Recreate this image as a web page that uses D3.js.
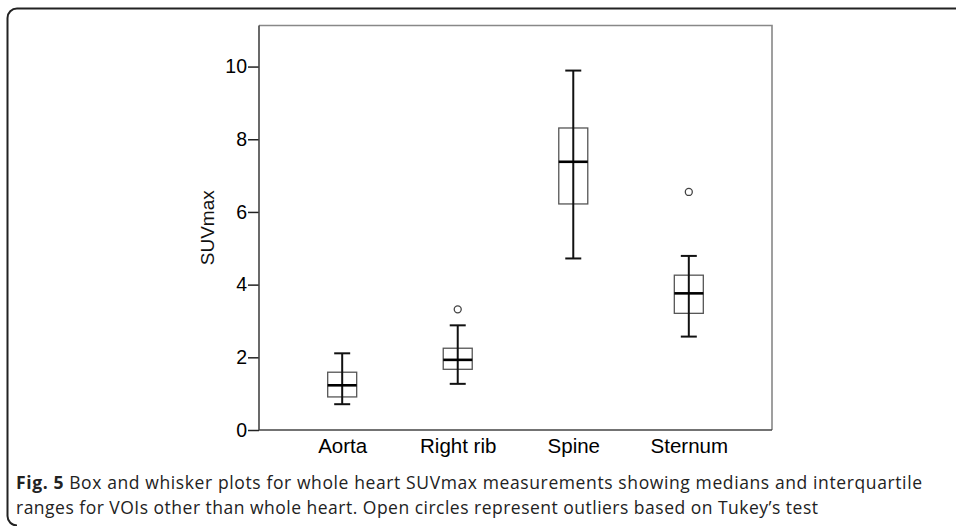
<!DOCTYPE html>
<html>
<head>
<meta charset="utf-8">
<script src="https://cdn.jsdelivr.net/npm/d3@7"></script>
<style>
  body { margin: 0; background: #fff; }
  svg { display: block; }
</style>
</head>
<body>
<div id="chart"></div>
<script>
const categories = ["Aorta", "Right rib", "Spine", "Sternum"];
const whiskerLow = [0.71, 1.27, 4.72, 2.57];
const q1 = [0.91, 1.67, 6.22, 3.21];
const medians = [1.23, 1.93, 7.38, 3.76];
const q3 = [1.59, 2.25, 8.31, 4.26];
const whiskerHigh = [2.11, 2.88, 9.89, 4.79];
const outliers = [[], [3.32], [], [6.55]];
const yTicks = [0, 2, 4, 6, 8, 10];
const captionLines = [
  ["Fig. 5", " Box and whisker plots for whole heart SUVmax measurements showing medians and interquartile"],
  ["", "ranges for VOIs other than whole heart. Open circles represent outliers based on Tukey\u2019s test"],
];

const width = 956;
const height = 526;
const plot = { left: 259, right: 772, top: 25.5, bottom: 430 };

const svg = d3.select("#chart").append("svg")
  .attr("width", width)
  .attr("height", height);

// figure frame
svg.append("path")
  .attr("d", "M956,8.5 H17 A9.5,9.5 0 0 0 7.5,18 V516 A9.5,9.5 0 0 0 17,525.5")
  .attr("fill", "none")
  .attr("stroke", "#222")
  .attr("stroke-width", 2);

const data = categories.map((c, i) => ({
  name: c,
  lo: whiskerLow[i],
  q1: q1[i],
  med: medians[i],
  q3: q3[i],
  hi: whiskerHigh[i],
  out: outliers[i],
}));

const x = d3.scalePoint()
  .domain(categories)
  .range([plot.left, plot.right])
  .padding(0.72);

const y = d3.scaleLinear()
  .domain([0, 11.13])
  .range([plot.bottom, plot.top]);

// top and right border of the plot
svg.append("path")
  .attr("d", `M${plot.left},${plot.top} H${plot.right} V${plot.bottom}`)
  .attr("fill", "none")
  .attr("stroke", "#888")
  .attr("stroke-width", 1.6);

const yAxis = d3.axisLeft(y).tickValues(yTicks).tickSize(11).tickPadding(1);
const gy = svg.append("g")
  .attr("transform", `translate(${plot.left},0)`)
  .call(yAxis);
gy.select(".domain").remove();
gy.append("line")
  .attr("x1", 0).attr("x2", 0)
  .attr("y1", plot.top).attr("y2", plot.bottom)
  .attr("stroke", "#444").attr("stroke-width", 1.6);
gy.selectAll(".tick line").attr("stroke", "#222").attr("stroke-width", 1.5);
gy.selectAll(".tick text")
  .attr("fill", "#000")
  .attr("font-family", "Liberation Sans, Arial, sans-serif")
  .attr("font-size", 19.5)
  .style("font-family", "Liberation Sans, Arial, sans-serif")
  .style("font-size", "19.5px");

const xAxis = d3.axisBottom(x).tickSize(0).tickPadding(8);
const gx = svg.append("g")
  .attr("transform", `translate(0,${plot.bottom})`)
  .call(xAxis);
gx.select(".domain").remove();
gx.append("line")
  .attr("x1", plot.left).attr("x2", plot.right)
  .attr("y1", 0).attr("y2", 0)
  .attr("stroke", "#444").attr("stroke-width", 1.6);
gx.selectAll(".tick text")
  .attr("fill", "#000")
  .style("font-family", "Liberation Sans, Arial, sans-serif")
  .style("font-size", "20.5px");

svg.append("text")
  .attr("transform", `translate(214,${(plot.top + plot.bottom) / 2}) rotate(-90)`)
  .attr("text-anchor", "middle")
  .attr("fill", "#111")
  .style("font-family", "Liberation Sans, Arial, sans-serif")
  .style("font-size", "19px")
  .text("SUVmax");

const boxW = 29;
const capW = 16;

const g = svg.append("g").selectAll("g").data(data).join("g")
  .attr("transform", (d) => `translate(${x(d.name)},0)`);

g.append("rect")
  .attr("x", -boxW / 2)
  .attr("y", (d) => y(d.q3))
  .attr("width", boxW)
  .attr("height", (d) => y(d.q1) - y(d.q3))
  .attr("fill", "none")
  .attr("stroke", "#555")
  .attr("stroke-width", 1.3);

g.append("line")
  .attr("x1", 0).attr("x2", 0)
  .attr("y1", (d) => y(d.lo))
  .attr("y2", (d) => y(d.hi))
  .attr("stroke", "#111")
  .attr("stroke-width", 2);

g.selectAll(".cap").data((d) => [d.lo, d.hi]).join("line")
  .attr("class", "cap")
  .attr("x1", -capW / 2).attr("x2", capW / 2)
  .attr("y1", (v) => y(v)).attr("y2", (v) => y(v))
  .attr("stroke", "#111")
  .attr("stroke-width", 2);

g.append("line")
  .attr("x1", -boxW / 2).attr("x2", boxW / 2)
  .attr("y1", (d) => y(d.med)).attr("y2", (d) => y(d.med))
  .attr("stroke", "#000")
  .attr("stroke-width", 2.6);

g.selectAll(".dot").data((d) => d.out).join("circle")
  .attr("class", "dot")
  .attr("cx", 0)
  .attr("cy", (v) => y(v))
  .attr("r", 3.5)
  .attr("fill", "white")
  .attr("stroke", "#444")
  .attr("stroke-width", 1.3);

// caption
const cap = svg.append("g")
  .style("font-family", "Open Sans, Noto Sans, sans-serif")
  .style("font-size", "17.5px")
  .attr("fill", "#222");

const captionWidths = [906, 802];
captionLines.forEach((parts, i) => {
  const t = cap.append("text")
    .attr("x", 16)
    .attr("y", 489 + i * 25)
    .attr("textLength", captionWidths[i])
    .attr("lengthAdjust", "spacing");
  if (parts[0]) t.append("tspan").attr("font-weight", "bold").text(parts[0]);
  t.append("tspan").text(parts[1]);
});
</script>
</body>
</html>
